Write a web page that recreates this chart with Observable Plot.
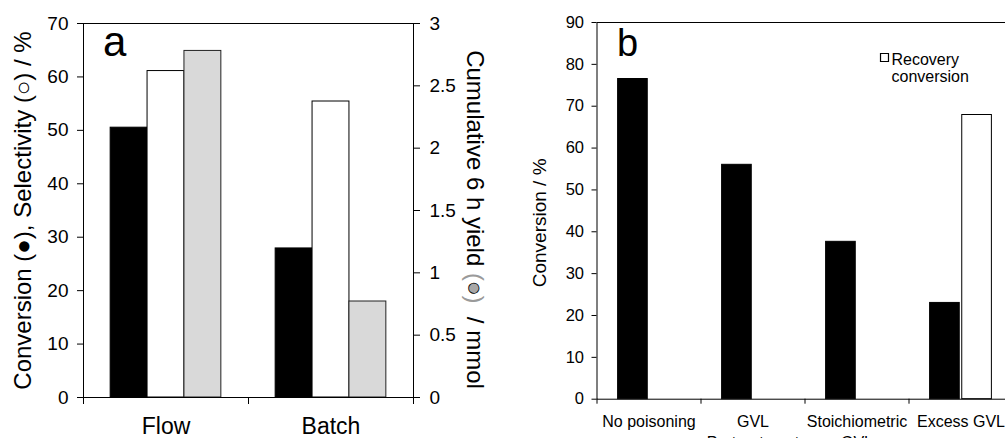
<!DOCTYPE html>
<html><head><meta charset="utf-8">
<script src="https://cdn.jsdelivr.net/npm/d3@7"></script>
<script src="https://cdn.jsdelivr.net/npm/@observablehq/plot@0.6"></script>
<style>
body{margin:0;background:#fff}
#wrap{position:relative;width:1005px;height:438px;overflow:hidden;background:#fff}
#pa{position:absolute;left:0;top:0;width:500px;height:438px}
#pb{position:absolute;left:500px;top:0;width:520px;height:460px}
svg{max-width:none !important}
</style></head><body><div id="wrap"><div id="pa"></div><div id="pb"></div></div>
<script>
// ---- Panel a data ----
const modes = ["Flow", "Batch"];
const conversionA = [50.5, 27.9];
const selectivityA = [61.1, 55.4];
const yieldA = [2.78, 0.77];
const yTicksA = [0, 10, 20, 30, 40, 50, 60, 70];
const yieldTicksA = [0, 0.5, 1, 1.5, 2, 2.5, 3];

// ---- Panel b data ----
const poisoning = ["No poisoning", "GVL\nPretreatment", "Stoichiometric\nGVL", "Excess GVL"];
const conversionB = [76.5, 56.0, 37.6, 23.0];
const recoveryB = [null, null, null, 67.9];
const yTicksB = [0, 10, 20, 30, 40, 50, 60, 70, 80, 90];

const FONT = "'Liberation Sans', Arial, Helvetica, sans-serif";

// ---- Panel a ----
const YMAX_A = 70, YIELD_MAX = 3, K = YMAX_A / YIELD_MAX;
const WA = 0.2236;
const rowsA = modes.map((c, i) => ({i, c, conv: conversionA[i], sel: selectivityA[i], yld: yieldA[i]}));
const barA = (j) => ({x1: d => d.i + 0.5 + (j - 1.5) * WA, x2: d => d.i + 0.5 + (j - 0.5) * WA});

const plotA = Plot.plot({
  width: 500, height: 438,
  marginLeft: 83, marginRight: 87, marginTop: 23, marginBottom: 41,
  style: {fontFamily: FONT, fontSize: "19px", color: "#000", background: "transparent", overflow: "visible", maxWidth: "none"},
  x: {type: "linear", domain: [0, modes.length]},
  y: {domain: [0, YMAX_A]},
  marks: [
    Plot.rectY(rowsA, {...barA(0), y: "conv", fill: "#000", stroke: "#000"}),
    Plot.rectY(rowsA, {...barA(1), y: "sel", fill: "#fff", stroke: "#000"}),
    Plot.rectY(rowsA, {...barA(2), y: d => d.yld * K, fill: "#d9d9d9", stroke: "#222"}),
    Plot.frame({stroke: "#000"}),
    Plot.axisY({ticks: yTicksA, tickSize: 6, tickPadding: 9, fontSize: 19, label: null}),
    Plot.axisY({anchor: "right", ticks: yieldTicksA.map(v => v * K), tickFormat: v => String(Math.round(v / K * 10) / 10), tickSize: 6, tickPadding: 10, fontSize: 19, label: null}),
    Plot.axisX({ticks: d3.range(0, modes.length + 1), tickSize: 7, tickFormat: () => "", label: null}),
    Plot.axisX({ticks: modes.map((c, i) => i + 0.5), tickSize: 0, tickPadding: 20, tickFormat: v => modes[Math.floor(v)], fontSize: 23, label: null}),
    Plot.text(["Conversion (●), Selectivity (○) / %"], {text: d => d, frameAnchor: "left", textAnchor: "middle", rotate: -90, dx: -60.5, fontSize: 24}),
    Plot.text(["Cumulative 6 h yield (●) / mmol"], {text: d => d, frameAnchor: "right", textAnchor: "middle", rotate: 90, dx: 61, dy: 9, fontSize: 24}),
    Plot.text(["a"], {text: d => d, frameAnchor: "top-left", textAnchor: "start", lineAnchor: "bottom", dx: 19.5, dy: 32, fontSize: 42})
  ]
});
document.getElementById("pa").appendChild(plotA);

d3.select(plotA).selectAll("text").filter(function () { return this.textContent.startsWith("Cumulative"); }).each(function () {
  const t = d3.select(this);
  t.text(null);
  t.append("tspan").text("Cumulative 6 h yield ");
  t.append("tspan").attr("fill", "#9a9a9a").text("(");
  t.append("tspan").attr("fill", "#a8a8a8").attr("stroke", "#000").attr("stroke-width", 0.8).text("●");
  t.append("tspan").attr("fill", "#9a9a9a").text(")");
  t.append("tspan").text("\u00a0 / mmol");
});

// ---- Panel b ----
const WB = 0.285, GB = 0.012;
const rowsB = poisoning.map((c, i) => ({i, c, conv: conversionB[i], rec: recoveryB[i]}));

const plotB = Plot.plot({
  width: 520, height: 460,
  marginLeft: 96.5, marginRight: 7.5, marginTop: 22, marginBottom: 61.3,
  style: {fontFamily: FONT, fontSize: "16.5px", color: "#000", background: "transparent", overflow: "visible", maxWidth: "none"},
  x: {type: "linear", domain: [0, poisoning.length]},
  y: {domain: [0, 90]},
  marks: [
    Plot.rectY(rowsB, {x1: d => d.i + 0.5 - GB - WB, x2: d => d.i + 0.5 - GB, y: "conv", fill: "#000", stroke: "#000"}),
    Plot.rectY(rowsB.filter(d => d.rec != null), {x1: d => d.i + 0.5 + GB, x2: d => d.i + 0.5 + GB + WB, y: "rec", fill: "#fff", stroke: "#000"}),
    Plot.frame({stroke: "#000"}),
    Plot.axisY({ticks: yTicksB, tickSize: 5, tickPadding: 8, fontSize: 16.5, label: null}),
    Plot.axisX({ticks: d3.range(0, poisoning.length + 1), tickSize: 5, tickFormat: () => "", label: null}),
    Plot.axisX({ticks: poisoning.map((c, i) => i + 0.5), tickSize: 0, tickPadding: 13, tickFormat: v => poisoning[Math.floor(v)], fontSize: 16, lineHeight: 1.3, label: null}),
    Plot.text(["Conversion / %"], {text: d => d, frameAnchor: "left", textAnchor: "middle", rotate: -90, dx: -57.5, dy: 12, fontSize: 19}),
    Plot.text(["b"], {text: d => d, frameAnchor: "top-left", textAnchor: "start", lineAnchor: "bottom", dx: 20, dy: 33, fontSize: 38}),
    Plot.dot([0], {frameAnchor: "top-left", dx: 287.5, dy: 35, symbol: "square", r: 4.5, fill: "#fff", stroke: "#000", strokeWidth: 1.2}),
    Plot.text(["Recovery\nconversion"], {text: d => d, frameAnchor: "top-left", textAnchor: "start", lineAnchor: "top", dx: 294.5, dy: 29.7, fontSize: 16, lineHeight: 1.1})
  ]
});
document.getElementById("pb").appendChild(plotB);
</script>
</body></html>
